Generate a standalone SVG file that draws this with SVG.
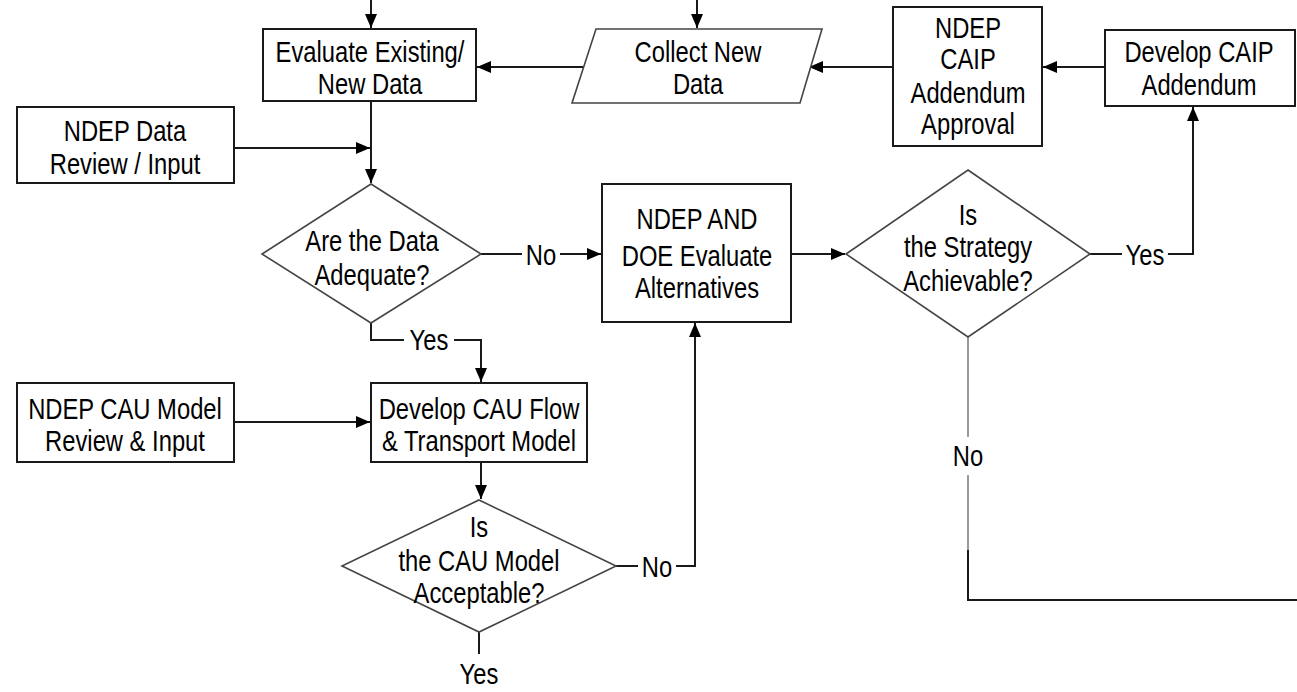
<svg xmlns="http://www.w3.org/2000/svg" width="1297" height="692" viewBox="0 0 1297 692">
<style>
.n{fill:#fff;stroke:#1a1a1a;stroke-width:2}
.d{fill:#fff;stroke:#444;stroke-width:1.6}
.c{fill:none;stroke:#1a1a1a;stroke-width:2}
.g{fill:none;stroke:#9a9a9a;stroke-width:2}
.t{font-family:"Liberation Sans","Arial",sans-serif;font-size:29px;fill:#000;text-anchor:middle}
</style>
<defs>
<marker id="a" viewBox="0 0 14 12" refX="14" refY="6" markerWidth="14" markerHeight="12" markerUnits="userSpaceOnUse" orient="auto">
<path d="M0,0L14,6L0,12z" fill="#000"/>
</marker>
</defs>
<rect width="1297" height="692" fill="#fff"/>
<g id="connectors">
<path class="c" d="M371,0V28" marker-end="url(#a)"/>
<path class="c" d="M697,0V28" marker-end="url(#a)"/>
<path class="c" d="M1105,67H1043" marker-end="url(#a)"/>
<path class="c" d="M893,67H809" marker-end="url(#a)"/>
<path class="c" d="M586,67H477" marker-end="url(#a)"/>
<path class="c" d="M234,148H370" marker-end="url(#a)"/>
<path class="c" d="M371,101V183" marker-end="url(#a)"/>
<path class="c" d="M481,254H522M560,254H601" marker-end="url(#a)"/>
<path class="c" d="M791,254H845" marker-end="url(#a)"/>
<path class="c" d="M1090,254H1122M1168,254H1193V107" marker-end="url(#a)"/>
<path class="g" d="M968,337V437M968,475V550"/>
<path class="c" d="M968,550V600H1297"/>
<path class="c" d="M371,323V340H404M454,340H481V382" marker-end="url(#a)"/>
<path class="c" d="M234,422H370" marker-end="url(#a)"/>
<path class="c" d="M481,462V499" marker-end="url(#a)"/>
<path class="c" d="M616,566H638M676,566H695V323" marker-end="url(#a)"/>
<path class="c" d="M479,632V654"/>
<text class="t" transform="translate(541,265) scale(0.82,1)">No</text>
<text class="t" transform="translate(1145,265) scale(0.82,1)">Yes</text>
<text class="t" transform="translate(968,466) scale(0.82,1)">No</text>
<text class="t" transform="translate(429,350) scale(0.82,1)">Yes</text>
<text class="t" transform="translate(657,577) scale(0.82,1)">No</text>
<text class="t" transform="translate(479,684) scale(0.82,1)">Yes</text>
</g>
<g id="evaluate">
<rect class="n" x="263" y="29" width="213" height="72"/>
<text class="t" transform="translate(370,62) scale(0.82,1)">Evaluate Existing/</text>
<text class="t" transform="translate(370,94) scale(0.82,1)">New Data</text>
</g>
<g id="collect">
<path class="d" d="M596,29H822L800,103H572z"/>
<text class="t" transform="translate(698,62) scale(0.82,1)">Collect New</text>
<text class="t" transform="translate(698,94) scale(0.82,1)">Data</text>
</g>
<g id="approval">
<rect class="n" x="893" y="7" width="149" height="139"/>
<text class="t" transform="translate(968,38) scale(0.82,1)">NDEP</text>
<text class="t" transform="translate(968,69) scale(0.82,1)">CAIP</text>
<text class="t" transform="translate(968,103) scale(0.82,1)">Addendum</text>
<text class="t" transform="translate(968,134) scale(0.82,1)">Approval</text>
</g>
<g id="develop-caip">
<rect class="n" x="1105" y="30" width="190" height="76"/>
<text class="t" transform="translate(1199,62) scale(0.82,1)">Develop CAIP</text>
<text class="t" transform="translate(1199,95) scale(0.82,1)">Addendum</text>
</g>
<g id="data-review">
<rect class="n" x="17" y="107" width="217" height="76"/>
<text class="t" transform="translate(125,141) scale(0.82,1)">NDEP Data</text>
<text class="t" transform="translate(125,174) scale(0.82,1)">Review / Input</text>
</g>
<g id="adequate">
<path class="d" d="M371,184L481,254L371,323L262,254z"/>
<text class="t" transform="translate(372,251) scale(0.82,1)">Are the Data</text>
<text class="t" transform="translate(372,285) scale(0.82,1)">Adequate?</text>
</g>
<g id="alternatives">
<rect class="n" x="602" y="184" width="189" height="138"/>
<text class="t" transform="translate(697,229) scale(0.82,1)">NDEP AND</text>
<text class="t" transform="translate(697,266) scale(0.82,1)">DOE Evaluate</text>
<text class="t" transform="translate(697,298) scale(0.82,1)">Alternatives</text>
</g>
<g id="achievable">
<path class="d" d="M968,170L1090,254L968,337L846,254z"/>
<text class="t" transform="translate(968,225) scale(0.82,1)">Is</text>
<text class="t" transform="translate(968,257) scale(0.82,1)">the Strategy</text>
<text class="t" transform="translate(968,291) scale(0.82,1)">Achievable?</text>
</g>
<g id="cau-review">
<rect class="n" x="17" y="383" width="217" height="79"/>
<text class="t" transform="translate(125,419) scale(0.82,1)">NDEP CAU Model</text>
<text class="t" transform="translate(125,451) scale(0.82,1)">Review &amp; Input</text>
</g>
<g id="flow-model">
<rect class="n" x="371" y="383" width="216" height="79"/>
<text class="t" transform="translate(479,419) scale(0.82,1)">Develop CAU Flow</text>
<text class="t" transform="translate(479,451) scale(0.82,1)">&amp; Transport Model</text>
</g>
<g id="cau-acceptable">
<path class="d" d="M479,500L616,566L479,632L342,566z"/>
<text class="t" transform="translate(479,537) scale(0.82,1)">Is</text>
<text class="t" transform="translate(479,571) scale(0.82,1)">the CAU Model</text>
<text class="t" transform="translate(479,603) scale(0.82,1)">Acceptable?</text>
</g>
</svg>
